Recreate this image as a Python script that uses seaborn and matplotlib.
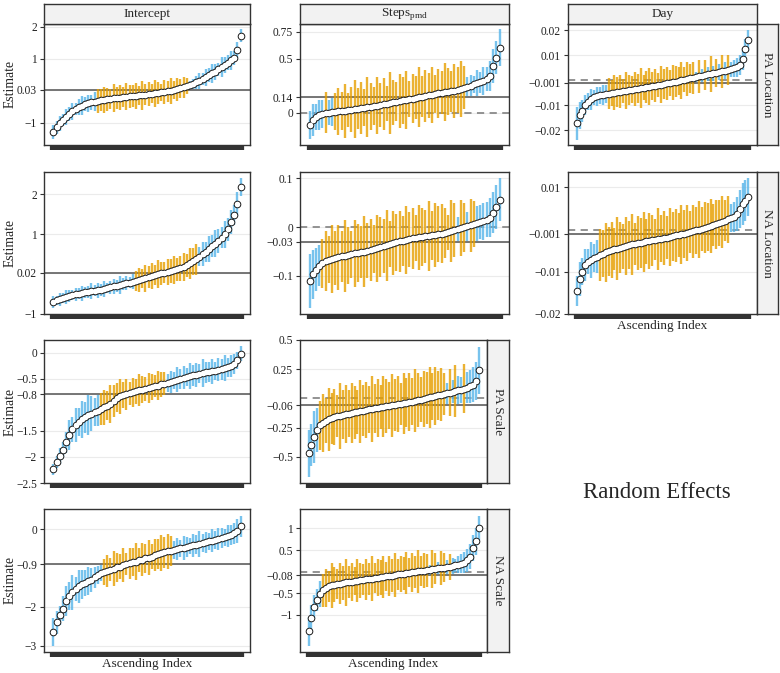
import numpy as np
import pandas as pd
import seaborn as sns
import matplotlib.pyplot as plt

# estimates (sorted) and half-widths of the intervals
pa_loc_int_est = [-1.31, -1.15, -1.02, -0.92, -0.82, -0.73, -0.65, -0.58, -0.52, -0.47,
                  -0.43, -0.39, -0.36, -0.34, -0.32, -0.30, -0.28, -0.27, -0.26, -0.24,
                  -0.23, -0.22, -0.20, -0.19, -0.18, -0.17, -0.16, -0.15, -0.14, -0.12,
                  -0.11, -0.10, -0.08, -0.07, -0.05, -0.04, -0.02, 0.0, 0.02, 0.05,
                  0.08, 0.11, 0.14, 0.18, 0.22, 0.26, 0.30, 0.36, 0.42, 0.48,
                  0.54, 0.60, 0.67, 0.74, 0.81, 0.88, 0.95, 1.04, 1.28, 1.72]
pa_loc_int_hw = [0.22, 0.20, 0.24, 0.18, 0.26, 0.21, 0.28, 0.19, 0.25, 0.30,
                 0.22, 0.27, 0.24, 0.29, 0.38, 0.34, 0.41, 0.36, 0.30, 0.44,
                 0.35, 0.39, 0.31, 0.42, 0.37, 0.34, 0.40, 0.29, 0.45, 0.33,
                 0.38, 0.30, 0.43, 0.35, 0.27, 0.39, 0.32, 0.41, 0.28, 0.36,
                 0.30, 0.33, 0.25, 0.12, 0.16, 0.20, 0.24, 0.18, 0.27, 0.22,
                 0.30, 0.25, 0.21, 0.32, 0.26, 0.23, 0.29, 0.22, 0.25, 0.20]

pa_loc_steps_est = [-0.12, -0.07, -0.045, -0.025, -0.012, -0.004, 0.0, 0.005, 0.009, 0.012,
                    0.015, 0.018, 0.022, 0.026, 0.030, 0.035, 0.040, 0.045, 0.050, 0.055,
                    0.060, 0.065, 0.070, 0.076, 0.082, 0.088, 0.094, 0.100, 0.106, 0.112,
                    0.118, 0.124, 0.130, 0.136, 0.142, 0.148, 0.154, 0.160, 0.166, 0.172,
                    0.178, 0.183, 0.188, 0.193, 0.198, 0.203, 0.210, 0.220, 0.230, 0.240,
                    0.250, 0.260, 0.270, 0.280, 0.290, 0.310, 0.340, 0.430, 0.510, 0.600]
pa_loc_steps_hw = [0.13, 0.15, 0.12, 0.14, 0.13, 0.19, 0.12, 0.13, 0.17, 0.22,
                   0.18, 0.25, 0.16, 0.21, 0.27, 0.19, 0.24, 0.17, 0.28, 0.22,
                   0.18, 0.26, 0.20, 0.24, 0.16, 0.29, 0.21, 0.18, 0.25, 0.22,
                   0.27, 0.17, 0.23, 0.20, 0.28, 0.19, 0.24, 0.21, 0.26, 0.18,
                   0.23, 0.20, 0.27, 0.22, 0.19, 0.25, 0.21, 0.26, 0.20, 0.09,
                   0.10, 0.08, 0.12, 0.10, 0.13, 0.11, 0.14, 0.16, 0.15, 0.17]

pa_loc_day_est = [-0.0171, -0.0140, -0.0122, -0.0100, -0.0085, -0.0075, -0.0068, -0.0064, -0.0060, -0.0057,
                  -0.0055, -0.0053, -0.0051, -0.0049, -0.0047, -0.0045, -0.0043, -0.0041, -0.0039, -0.0037,
                  -0.0035, -0.0033, -0.0031, -0.0029, -0.0027, -0.0025, -0.0023, -0.0021, -0.0019, -0.0017,
                  -0.0015, -0.0012, -0.0010, -0.0008, -0.0006, -0.0003, -0.0001, 0.0002, 0.0004, 0.0007,
                  0.0010, 0.0013, 0.0015, 0.0018, 0.0020, 0.0023, 0.0025, 0.0028, 0.0030, 0.0033,
                  0.0035, 0.0038, 0.0041, 0.0044, 0.0047, 0.0052, 0.0062, 0.0085, 0.0124, 0.0160]
pa_loc_day_hw = [0.0065, 0.0055, 0.0045, 0.0040, 0.0035, 0.0042, 0.0030, 0.0038, 0.0033, 0.0040,
                 0.0036, 0.0062, 0.0050, 0.0071, 0.0058, 0.0066, 0.0049, 0.0075, 0.0060, 0.0053,
                 0.0069, 0.0057, 0.0078, 0.0051, 0.0064, 0.0072, 0.0055, 0.0067, 0.0048, 0.0074,
                 0.0059, 0.0065, 0.0052, 0.0070, 0.0061, 0.0056, 0.0073, 0.0050, 0.0068, 0.0058,
                 0.0063, 0.0020, 0.0066, 0.0025, 0.0060, 0.0028, 0.0070, 0.0030, 0.0055, 0.0032,
                 0.0065, 0.0034, 0.0058, 0.0030, 0.0035, 0.0038, 0.0040, 0.0045, 0.0040, 0.0042]

na_loc_int_est = [-0.71, -0.67, -0.64, -0.61, -0.58, -0.56, -0.54, -0.52, -0.50, -0.485,
                  -0.47, -0.455, -0.44, -0.43, -0.42, -0.40, -0.38, -0.36, -0.34, -0.32,
                  -0.30, -0.28, -0.26, -0.24, -0.22, -0.20, -0.18, -0.155, -0.13, -0.11,
                  -0.085, -0.06, -0.035, -0.01, 0.01, 0.03, 0.05, 0.07, 0.09, 0.11,
                  0.14, 0.17, 0.21, 0.26, 0.31, 0.37, 0.43, 0.49, 0.55, 0.62,
                  0.69, 0.76, 0.83, 0.91, 1.00, 1.12, 1.30, 1.48, 1.75, 2.18]
na_loc_int_hw = [0.14, 0.12, 0.16, 0.13, 0.18, 0.15, 0.12, 0.17, 0.14, 0.19,
                 0.13, 0.16, 0.20, 0.14, 0.18, 0.15, 0.21, 0.13, 0.17, 0.19,
                 0.15, 0.22, 0.16, 0.18, 0.14, 0.19, 0.26, 0.31, 0.24, 0.34,
                 0.28, 0.32, 0.25, 0.36, 0.29, 0.27, 0.33, 0.30, 0.35, 0.28,
                 0.32, 0.36, 0.30, 0.38, 0.33, 0.39, 0.24, 0.30, 0.26, 0.33,
                 0.28, 0.35, 0.30, 0.27, 0.34, 0.29, 0.31, 0.26, 0.30, 0.22]

na_loc_steps_est = [-0.110, -0.097, -0.087, -0.079, -0.074, -0.070, -0.067, -0.065, -0.063, -0.062,
                    -0.060, -0.059, -0.058, -0.056, -0.054, -0.053, -0.051, -0.050, -0.048, -0.047,
                    -0.045, -0.043, -0.041, -0.039, -0.037, -0.035, -0.033, -0.031, -0.029, -0.028,
                    -0.026, -0.025, -0.023, -0.022, -0.021, -0.020, -0.019, -0.018, -0.017, -0.016,
                    -0.014, -0.013, -0.012, -0.010, -0.008, -0.006, -0.004, -0.002, 0.000, 0.002,
                    0.004, 0.006, 0.008, 0.010, 0.012, 0.015, 0.019, 0.030, 0.042, 0.056]
na_loc_steps_hw = [0.055, 0.050, 0.045, 0.042, 0.050, 0.062, 0.048, 0.070, 0.055, 0.066,
                   0.052, 0.074, 0.058, 0.049, 0.068, 0.060, 0.053, 0.072, 0.057, 0.064,
                   0.050, 0.069, 0.061, 0.055, 0.073, 0.047, 0.066, 0.058, 0.063, 0.051,
                   0.070, 0.056, 0.062, 0.048, 0.067, 0.059, 0.054, 0.071, 0.050, 0.065,
                   0.057, 0.060, 0.052, 0.036, 0.063, 0.055, 0.024, 0.058, 0.050, 0.030,
                   0.054, 0.047, 0.036, 0.035, 0.038, 0.036, 0.040, 0.042, 0.045, 0.044]

na_loc_day_est = [-0.0146, -0.0118, -0.0100, -0.0085, -0.0076, -0.0072, -0.0068, -0.0064, -0.0060, -0.0057,
                  -0.0054, -0.0051, -0.0049, -0.0047, -0.0045, -0.0043, -0.0041, -0.0039, -0.0037, -0.0035,
                  -0.0034, -0.0032, -0.0031, -0.0029, -0.0028, -0.0027, -0.0026, -0.0024, -0.0023, -0.0022,
                  -0.0020, -0.0019, -0.0017, -0.0016, -0.0014, -0.0013, -0.0011, -0.0010, -0.0008, -0.0006,
                  -0.0004, -0.0002, 0.0000, 0.0002, 0.0004, 0.0006, 0.0008, 0.0010, 0.0012, 0.0015,
                  0.0018, 0.0021, 0.0024, 0.0027, 0.0030, 0.0036, 0.0048, 0.0060, 0.0068, 0.0076]
na_loc_day_hw = [0.0035, 0.0040, 0.0032, 0.0038, 0.0030, 0.0042, 0.0033, 0.0040, 0.0062, 0.0055,
                 0.0070, 0.0058, 0.0066, 0.0050, 0.0074, 0.0060, 0.0053, 0.0068, 0.0057, 0.0072,
                 0.0049, 0.0065, 0.0059, 0.0071, 0.0054, 0.0067, 0.0061, 0.0048, 0.0073, 0.0056,
                 0.0064, 0.0051, 0.0069, 0.0058, 0.0062, 0.0053, 0.0070, 0.0057, 0.0066, 0.0050,
                 0.0063, 0.0055, 0.0068, 0.0052, 0.0060, 0.0057, 0.0064, 0.0050, 0.0058, 0.0054,
                 0.0061, 0.0048, 0.0056, 0.0034, 0.0036, 0.0040, 0.0045, 0.0050, 0.0048, 0.0045]

pa_scale_int_est = [-2.24, -2.10, -1.98, -1.86, -1.72, -1.58, -1.47, -1.39, -1.33, -1.28,
                    -1.24, -1.20, -1.17, -1.14, -1.11, -1.08, -1.05, -1.02, -0.98, -0.93,
                    -0.86, -0.84, -0.82, -0.80, -0.78, -0.76, -0.74, -0.72, -0.71, -0.69,
                    -0.68, -0.66, -0.645, -0.63, -0.61, -0.60, -0.58, -0.56, -0.54, -0.52,
                    -0.50, -0.48, -0.46, -0.45, -0.43, -0.42, -0.40, -0.39, -0.38, -0.37,
                    -0.36, -0.35, -0.33, -0.32, -0.30, -0.28, -0.26, -0.22, -0.15, -0.02]
pa_scale_int_hw = [0.10, 0.12, 0.15, 0.14, 0.20, 0.28, 0.24, 0.32, 0.26, 0.35,
                   0.30, 0.38, 0.33, 0.27, 0.29, 0.30, 0.34, 0.28, 0.36, 0.31,
                   0.27, 0.33, 0.25, 0.30, 0.22, 0.28, 0.24, 0.31, 0.26, 0.23,
                   0.29, 0.25, 0.21, 0.27, 0.24, 0.22, 0.18, 0.21, 0.16, 0.24,
                   0.19, 0.22, 0.17, 0.25, 0.20, 0.23, 0.18, 0.26, 0.21, 0.19,
                   0.24, 0.17, 0.22, 0.20, 0.25, 0.18, 0.21, 0.19, 0.16, 0.14]

pa_scale_steps_est = [-0.47, -0.40, -0.33, -0.27, -0.23, -0.21, -0.19, -0.18, -0.17, -0.16,
                      -0.155, -0.15, -0.14, -0.135, -0.13, -0.125, -0.12, -0.115, -0.11, -0.105,
                      -0.10, -0.095, -0.09, -0.085, -0.08, -0.076, -0.072, -0.068, -0.064, -0.060,
                      -0.056, -0.052, -0.048, -0.043, -0.038, -0.033, -0.028, -0.022, -0.016, -0.010,
                      -0.004, 0.002, 0.008, 0.014, 0.020, 0.026, 0.032, 0.038, 0.044, 0.050,
                      0.056, 0.062, 0.068, 0.074, 0.082, 0.092, 0.104, 0.118, 0.150, 0.240]
pa_scale_steps_hw = [0.20, 0.18, 0.22, 0.19, 0.21, 0.25, 0.19, 0.27, 0.22, 0.24,
                     0.18, 0.28, 0.21, 0.25, 0.20, 0.26, 0.23, 0.19, 0.27, 0.22,
                     0.24, 0.20, 0.28, 0.21, 0.25, 0.19, 0.26, 0.23, 0.20, 0.27,
                     0.22, 0.24, 0.18, 0.26, 0.21, 0.25, 0.20, 0.27, 0.23, 0.19,
                     0.24, 0.22, 0.26, 0.20, 0.25, 0.21, 0.23, 0.18, 0.09, 0.20,
                     0.10, 0.22, 0.12, 0.11, 0.21, 0.13, 0.14, 0.15, 0.16, 0.20]

na_scale_int_est = [-2.64, -2.40, -2.22, -2.05, -1.85, -1.72, -1.62, -1.54, -1.47, -1.42,
                    -1.38, -1.34, -1.30, -1.24, -1.18, -1.13, -1.10, -1.07, -1.04, -1.01,
                    -0.98, -0.96, -0.93, -0.90, -0.88, -0.85, -0.83, -0.80, -0.78, -0.75,
                    -0.73, -0.70, -0.67, -0.64, -0.61, -0.59, -0.57, -0.55, -0.53, -0.51,
                    -0.49, -0.47, -0.45, -0.43, -0.41, -0.39, -0.37, -0.35, -0.33, -0.31,
                    -0.29, -0.27, -0.25, -0.23, -0.20, -0.17, -0.14, -0.10, -0.04, 0.08]
na_scale_int_hw = [0.36, 0.30, 0.25, 0.32, 0.40, 0.35, 0.45, 0.30, 0.42, 0.38,
                   0.33, 0.36, 0.31, 0.27, 0.24, 0.20, 0.34, 0.42, 0.30, 0.46,
                   0.38, 0.33, 0.44, 0.29, 0.40, 0.36, 0.47, 0.31, 0.43, 0.37,
                   0.45, 0.32, 0.41, 0.38, 0.46, 0.40, 0.44, 0.39, 0.24, 0.28,
                   0.22, 0.31, 0.26, 0.20, 0.29, 0.25, 0.33, 0.23, 0.27, 0.21,
                   0.30, 0.24, 0.28, 0.26, 0.22, 0.29, 0.25, 0.27, 0.30, 0.28]

na_scale_steps_est = [-1.38, -1.08, -0.82, -0.66, -0.52, -0.43, -0.38, -0.34, -0.32, -0.30,
                      -0.29, -0.28, -0.265, -0.25, -0.24, -0.23, -0.22, -0.21, -0.20, -0.19,
                      -0.18, -0.17, -0.16, -0.15, -0.14, -0.13, -0.12, -0.11, -0.10, -0.09,
                      -0.075, -0.065, -0.055, -0.045, -0.035, -0.025, -0.015, -0.005, 0.005, 0.015,
                      0.025, 0.035, 0.045, 0.055, 0.065, 0.075, 0.085, 0.095, 0.105, 0.115,
                      0.13, 0.145, 0.16, 0.18, 0.21, 0.26, 0.35, 0.55, 0.70, 1.02]
na_scale_steps_hw = [0.33, 0.30, 0.28, 0.25, 0.30, 0.38, 0.45, 0.36, 0.52, 0.40,
                     0.34, 0.48, 0.39, 0.55, 0.37, 0.44, 0.33, 0.50, 0.41, 0.36,
                     0.47, 0.38, 0.53, 0.35, 0.43, 0.40, 0.49, 0.34, 0.46, 0.38,
                     0.51, 0.36, 0.42, 0.39, 0.48, 0.33, 0.45, 0.37, 0.50, 0.35,
                     0.41, 0.38, 0.12, 0.44, 0.36, 0.14, 0.40, 0.34, 0.16, 0.30,
                     0.18, 0.15, 0.20, 0.22, 0.24, 0.26, 0.28, 0.30, 0.32, 0.28]

# fixed effects (solid reference lines) and y tick marks
pa_loc_fixed = [0.03, 0.14, -0.001]
na_loc_fixed = [0.02, -0.03, -0.001]
pa_scale_fixed = [-0.8, -0.06]
na_scale_fixed = [-0.9, -0.08]

pa_loc_ticks = [[-1, 0.03, 1, 2], [0, 0.14, 0.5, 0.75], [-0.02, -0.01, -0.001, 0.01, 0.02]]
na_loc_ticks = [[-1, 0.02, 1, 2], [-0.1, -0.03, 0, 0.1], [-0.02, -0.01, -0.001, 0.01]]
pa_scale_ticks = [[-2.5, -2, -1.5, -0.8, -0.5, 0], [-0.5, -0.25, -0.06, 0.25, 0.5]]
na_scale_ticks = [[-3, -2, -0.9, 0], [-1, -0.5, -0.08, 0.5, 1]]

col_titles = ['Intercept', r'Steps$_{\mathrm{pmd}}$', 'Day']
row_titles = ['PA Location', 'NA Location', 'PA Scale', 'NA Scale']

BLUE = '#56B4E9'
ORANGE = '#E69F00'
FRAME = '#333333'

sns.set_theme(style='white')
plt.rcParams['font.family'] = ['Liberation Serif', 'DejaVu Serif']
plt.rcParams['mathtext.fontset'] = 'custom'
plt.rcParams['mathtext.rm'] = 'Liberation Serif'
plt.rcParams['axes.unicode_minus'] = True

W, H = 780, 673
fig = plt.figure(figsize=(W / 100, H / 100), dpi=100)


def rect(x0, y0, x1, y1):
    return [x0 / W, 1 - y1 / H, (x1 - x0) / W, (y1 - y0) / H]


def fmt(v):
    return f'{v:g}'.replace('-', '\u2212')


def strip(box, text, rotation=0):
    s = fig.add_axes(rect(*box))
    s.set_facecolor('#F2F2F2')
    s.set_xticks([])
    s.set_yticks([])
    for sp in s.spines.values():
        sp.set_color(FRAME)
        sp.set_linewidth(1.0)
    s.text(0.5, 0.5, text, ha='center', va='center', rotation=rotation,
           fontsize=9.5, transform=s.transAxes)


def draw_panel(box, est, hw, fixed, ticks, zero_line, ylabel=False, xlabel=False):
    ax = fig.add_axes(rect(*box))
    n = len(est)
    df = pd.DataFrame({'idx': np.arange(1, n + 1), 'est': est, 'hw': hw})
    df['lo'] = df['est'] - df['hw']
    df['hi'] = df['est'] + df['hw']
    covers = (df['lo'] <= fixed) & (df['hi'] >= fixed)
    colors = np.where(covers, ORANGE, BLUE)

    ax.axhline(fixed, color='#6b6b6b', lw=1.3, zorder=1.5)
    if zero_line:
        ax.axhline(0, color='#8a8a8a', lw=1.3, ls=(0, (4, 3)), zorder=1.6)
    ax.vlines(df['idx'], df['lo'], df['hi'], colors=colors, lw=1.7, alpha=0.8, zorder=2)
    sns.scatterplot(data=df, x='idx', y='est', color='#111111', s=30, linewidth=0,
                    ax=ax, zorder=3)
    sns.scatterplot(data=df, x='idx', y='est', color='white', s=17, linewidth=0,
                    ax=ax, zorder=4)

    ax.set_xlim(1 - 0.05 * (n - 1), n + 0.05 * (n - 1))
    lo, hi = df['lo'].min(), df['hi'].max()
    pad = 0.05 * (hi - lo)
    ax.set_ylim(lo - pad, hi + pad)
    ax.set_yticks(ticks)
    ax.set_yticklabels([fmt(t) for t in ticks])
    ax.set_xticks(df['idx'])
    ax.set_xticklabels([])
    ax.tick_params(axis='x', bottom=True, length=3.5, width=4.5, color=FRAME, direction='out')
    ax.tick_params(axis='y', left=True, length=3, width=0.8, color=FRAME,
                   labelsize=8.3, pad=2, labelcolor='#222222')
    ax.grid(axis='y', color='#EBEBEB', lw=0.8)
    ax.grid(axis='x', visible=False)
    ax.set_axisbelow(True)
    for sp in ax.spines.values():
        sp.set_color(FRAME)
        sp.set_linewidth(1.0)
    ax.set_xlabel('Ascending Index' if xlabel else '', fontsize=9.5)
    ax.xaxis.set_label_coords(0.5, -6.0 / (box[3] - box[1]))
    ax.set_ylabel('Estimate' if ylabel else '', fontsize=9.8)
    if ylabel:
        ax.yaxis.set_label_coords(-0.135, 0.5)
    return ax


rows = [(24, 145), (172, 314), (340, 483), (509, 652)]

# row 1: PA Location
y0, y1 = rows[0]
draw_panel((44, y0, 250, y1), pa_loc_int_est, pa_loc_int_hw, pa_loc_fixed[0], pa_loc_ticks[0], False, ylabel=True)
draw_panel((300, y0, 509, y1), pa_loc_steps_est, pa_loc_steps_hw, pa_loc_fixed[1], pa_loc_ticks[1], True)
draw_panel((568, y0, 757, y1), pa_loc_day_est, pa_loc_day_hw, pa_loc_fixed[2], pa_loc_ticks[2], True)
strip((44, 4, 250, 24), col_titles[0])
strip((300, 4, 509, 24), col_titles[1])
strip((568, 4, 757, 24), col_titles[2])
strip((757, y0, 778, y1), row_titles[0], rotation=-90)

# row 2: NA Location
y0, y1 = rows[1]
draw_panel((44, y0, 250, y1), na_loc_int_est, na_loc_int_hw, na_loc_fixed[0], na_loc_ticks[0], False, ylabel=True)
draw_panel((300, y0, 509, y1), na_loc_steps_est, na_loc_steps_hw, na_loc_fixed[1], na_loc_ticks[1], True)
draw_panel((568, y0, 757, y1), na_loc_day_est, na_loc_day_hw, na_loc_fixed[2], na_loc_ticks[2], True, xlabel=True)
strip((757, y0, 778, y1), row_titles[1], rotation=-90)

# row 3: PA Scale
y0, y1 = rows[2]
draw_panel((44, y0, 250, y1), pa_scale_int_est, pa_scale_int_hw, pa_scale_fixed[0], pa_scale_ticks[0], False, ylabel=True)
draw_panel((300, y0, 487, y1), pa_scale_steps_est, pa_scale_steps_hw, pa_scale_fixed[1], pa_scale_ticks[1], True)
strip((487, y0, 509, y1), row_titles[2], rotation=-90)

# row 4: NA Scale
y0, y1 = rows[3]
draw_panel((44, y0, 250, y1), na_scale_int_est, na_scale_int_hw, na_scale_fixed[0], na_scale_ticks[0], False,
           ylabel=True, xlabel=True)
draw_panel((300, y0, 487, y1), na_scale_steps_est, na_scale_steps_hw, na_scale_fixed[1], na_scale_ticks[1], True,
           xlabel=True)
strip((487, y0, 509, y1), row_titles[3], rotation=-90)

fig.text(657 / W, 1 - 493 / H, 'Random Effects', ha='center', va='center', fontsize=16.5)

fig.savefig('out.png', dpi=100)
